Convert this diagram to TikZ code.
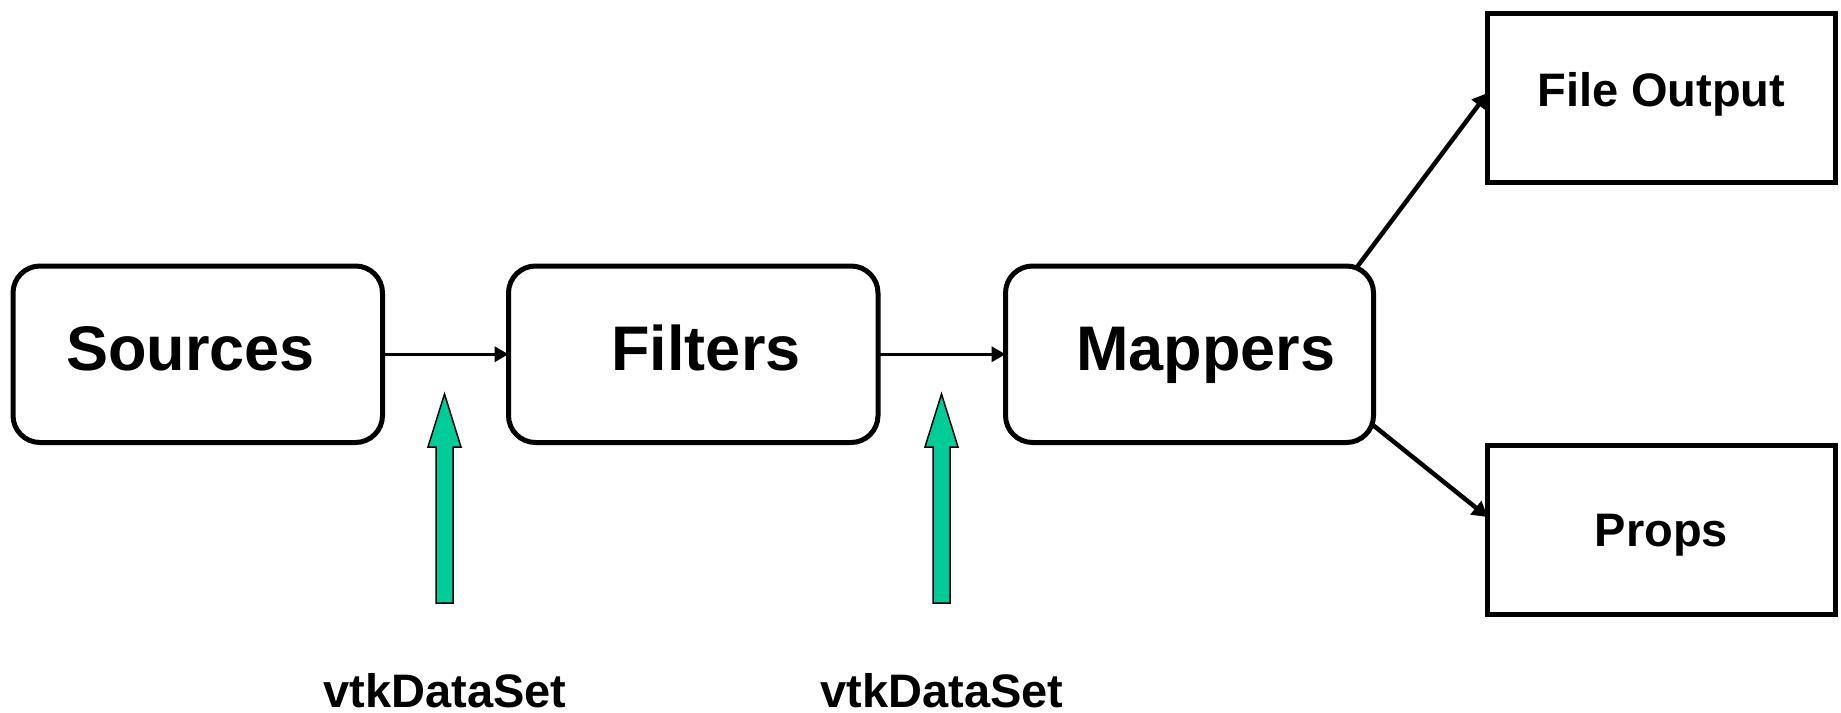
\documentclass[tikz,border=0pt]{standalone}
\usepackage{fontspec}
\setmainfont{Liberation Sans}
\usetikzlibrary{arrows.meta,calc}
\definecolor{dsgreen}{RGB}{0,204,153}
\begin{document}
\begin{tikzpicture}[x=1pt,y=-1pt,
  rbox/.style={draw, line width=5pt, rounded corners=27pt, inner sep=0pt, outer sep=0pt, minimum height=176.5pt},
  sbox/.style={draw, line width=5pt, inner sep=0pt, outer sep=0pt, minimum width=347.5pt, minimum height=169.5pt},
  bigtxt/.style={font=\fontsize{63}{63}\selectfont\bfseries, anchor=base, inner sep=0pt},
  smalltxt/.style={font=\fontsize{47}{47}\selectfont\bfseries, anchor=base, inner sep=0pt},
  thinarrow/.style={line width=3.5pt, -{Triangle[length=14pt,width=15pt]}},
  thickarrow/.style={line width=4.5pt, -{Triangle[length=15pt,width=17pt]}},
  greenarrow/.style={fill=dsgreen, draw=black, line width=1.5pt, line join=miter}
]
\useasboundingbox[fill=white] (0,0) rectangle (1841,712);

% boxes
\node[rbox, minimum width=369.5pt] (src) at (197.75,354.25) {};
\node[rbox, minimum width=369.5pt] (flt) at (693.25,354.25) {};
\node[rbox, minimum width=368pt] (map) at (1189.5,354.25) {};
\node[sbox] (fo) at (1661.25,98) {};
\node[sbox] (props) at (1661.25,530) {};

% texts
\node[bigtxt] (srct) at (190.7,370) {Sources};
\node[bigtxt] (fltt) at (706,370) {Filters};
\node[bigtxt] (mapt) at (1206,370) {Mappers};
\node[smalltxt] (fot) at (1661.3,106.7) {File Output};
\node[smalltxt] (propst) at (1661.5,546.7) {Props};
\node[smalltxt] (ds1) at (445,707) {vtkDataSet};
\node[smalltxt] (ds2) at (942,707) {vtkDataSet};

% connectors
\draw[thinarrow] (src.east) -- (flt.west);
\draw[thinarrow] (flt.east) -- (map.west);
\draw[thickarrow] ($(map.north east)+(-16.5,1)$) -- ($(fo.west)+(0,-5)$);
\draw[thickarrow] ($(map.south east)+(0,-17)$) -- ($(props.west)+(0,-13)$);

% green block arrows
\draw[greenarrow] (444.5,394) -- (461,447) -- (453,447) -- (453,603) -- (436,603) -- (436,447) -- (428,447) -- cycle;
\draw[greenarrow] (941.5,394) -- (958,447) -- (950,447) -- (950,603) -- (933,603) -- (933,447) -- (925,447) -- cycle;
\end{tikzpicture}
\end{document}
